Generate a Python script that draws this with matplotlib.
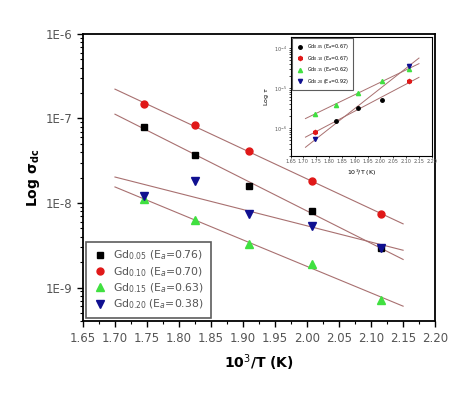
import numpy as np
import matplotlib.pyplot as plt
from matplotlib.ticker import FixedLocator, NullFormatter, LogLocator

# main panel: dc conductivity vs 1000/T
x_main = [1.745, 1.825, 1.910, 2.008, 2.115]
sig_005 = [7.9e-8, 3.7e-8, 1.6e-8, 8.1e-9, 2.9e-9]
sig_010 = [1.47e-7, 8.4e-8, 4.1e-8, 1.8e-8, 7.4e-9]
sig_015 = [1.1e-8, 6.3e-9, 3.27e-9, 1.9e-9, 7.2e-10]
sig_020 = [1.22e-8, 1.8e-8, 7.4e-9, 5.4e-9, 2.95e-9]
labels_main = [r'Gd$_{0.05}$ (E$_a$=0.76)', r'Gd$_{0.10}$ (E$_a$=0.70)',
               r'Gd$_{0.15}$ (E$_a$=0.63)', r'Gd$_{0.20}$ (E$_a$=0.38)']

# inset: relaxation time
x_in = [1.747, 1.825, 1.911, 2.006, 2.113]
tau_black = [None, 1.55e-6, 3.1e-6, 5.2e-6, None]
tau_red = [7.8e-7, None, None, None, 1.5e-5]
tau_green = [2.3e-6, 3.9e-6, 7.6e-6, 1.5e-5, 3.1e-5]
tau_blue = [5.2e-7, None, None, None, 3.7e-5]
labels_in = [r'Gd$_{0.05}$ (E$_a$=0.67)', r'Gd$_{0.10}$ (E$_a$=0.67)',
             r'Gd$_{0.15}$ (E$_a$=0.62)', r'Gd$_{0.20}$ (E$_a$=0.92)']

fitc = '#a87070'
grey = '#555555'


def fit_line(ax, xs, ys, x0, x1, lw=0.8):
    pts = [(a, b) for a, b in zip(xs, ys) if b is not None]
    xx = np.array([p[0] for p in pts])
    yy = np.log10([p[1] for p in pts])
    k, b = np.polyfit(xx, yy, 1)
    xl = np.array([x0, x1])
    ax.plot(xl, 10 ** (k * xl + b), color=fitc, lw=lw, zorder=1)


def clean(vals):
    return [np.nan if v is None else v for v in vals]


fig = plt.figure(figsize=(4.74, 3.95), dpi=100)
ax = fig.add_axes([0.175, 0.187, 0.743, 0.727])

for ys in [sig_005, sig_010, sig_015, sig_020]:
    fit_line(ax, x_main, ys, 1.70, 2.15)

ms = 4.5
ax.plot(x_main, sig_005, 's', color='black', ms=ms, ls='none', label=labels_main[0], zorder=3)
ax.plot(x_main, sig_010, 'o', color='#e01818', ms=ms + 0.5, ls='none', label=labels_main[1], zorder=3)
ax.plot(x_main, sig_015, '^', color='#40e040', ms=ms + 1, ls='none', label=labels_main[2], zorder=3)
ax.plot(x_main, sig_020, 'v', color='#101090', ms=ms + 1, ls='none', label=labels_main[3], zorder=4)

ax.set_yscale('log')
ax.set_xlim(1.65, 2.20)
ax.set_ylim(4e-10, 1e-6)
ax.set_xticks(np.arange(1.65, 2.201, 0.05))
ax.set_xticklabels(['%.2f' % v for v in np.arange(1.65, 2.201, 0.05)])
ax.xaxis.set_minor_locator(FixedLocator(np.arange(1.675, 2.2, 0.05)))
ax.yaxis.set_major_locator(FixedLocator([1e-9, 1e-8, 1e-7, 1e-6]))
ax.set_yticklabels(['1E-9', '1E-8', '1E-7', '1E-6'])
ax.yaxis.set_minor_locator(LogLocator(base=10, subs=np.arange(2, 10)))
ax.yaxis.set_minor_formatter(NullFormatter())
ax.tick_params(which='both', direction='out', top=False, right=False,
               labelsize=8.5, labelcolor=grey)
ax.tick_params(which='major', length=4, width=1)
ax.tick_params(which='minor', length=2.5, width=0.8)
for s in ax.spines.values():
    s.set_linewidth(1.3)

ax.set_xlabel(r'10$^3$/T (K)', fontsize=10, fontweight='bold', labelpad=6)
ax.set_ylabel(r'Log $\mathbf{\sigma_{dc}}$', fontsize=10, fontweight='bold', labelpad=3)

leg = ax.legend(loc='lower left', fontsize=7.8, frameon=True, fancybox=False,
                borderaxespad=0.3, handletextpad=0.5, labelspacing=0.25,
                borderpad=0.6, handlelength=1.4)
leg.get_frame().set_edgecolor('#333333')
leg.get_frame().set_linewidth(1.2)
for t in leg.get_texts():
    t.set_color(grey)

# inset
axi = fig.add_axes([0.613, 0.605, 0.298, 0.301])
fit_line(axi, x_in + x_in, tau_black + tau_red, 1.708, 2.15, lw=0.7)
fit_line(axi, x_in, tau_green, 1.708, 2.15, lw=0.7)
fit_line(axi, x_in, tau_blue, 1.708, 2.15, lw=0.7)
ms_i = 2.5
axi.plot(x_in, clean(tau_black), 'o', color='black', ms=ms_i, ls='none', label=labels_in[0])
axi.plot(x_in, clean(tau_red), 'h', color='#e01818', ms=ms_i + 0.5, ls='none', label=labels_in[1])
axi.plot(x_in, tau_green, '^', color='#40e040', ms=ms_i + 0.5, ls='none', label=labels_in[2])
axi.plot(x_in, clean(tau_blue), 'v', color='#101090', ms=ms_i + 0.5, ls='none', label=labels_in[3])
axi.set_yscale('log')
axi.set_xlim(1.65, 2.20)
axi.set_ylim(10 ** -6.7, 10 ** -3.72)
axi.set_xticks(np.arange(1.65, 2.201, 0.05))
axi.set_xticklabels(['%.2f' % v for v in np.arange(1.65, 2.201, 0.05)])
axi.yaxis.set_major_locator(FixedLocator([1e-6, 1e-5, 1e-4]))
axi.set_yticklabels([r'10$^{-6}$', r'10$^{-5}$', r'10$^{-4}$'])
axi.yaxis.set_minor_locator(LogLocator(base=10, subs=np.arange(2, 10)))
axi.yaxis.set_minor_formatter(NullFormatter())
axi.tick_params(which='both', direction='out', top=False, right=False,
                labelsize=3.5, labelcolor=grey, length=1.5, width=0.5, pad=1)
for s in axi.spines.values():
    s.set_linewidth(0.8)
axi.set_xlabel(r'10$^3$/T (K)', fontsize=4.5, labelpad=2)
axi.set_ylabel(r'Log $\tau$', fontsize=4.5, labelpad=2)
li = axi.legend(loc='upper left', fontsize=3.5, frameon=True, fancybox=False,
                borderaxespad=0.2, labelspacing=0.5, borderpad=0.9, handlelength=1.5)
li.get_frame().set_edgecolor('#333333')
li.get_frame().set_linewidth(0.8)

fig.savefig('out.png', dpi=100)
